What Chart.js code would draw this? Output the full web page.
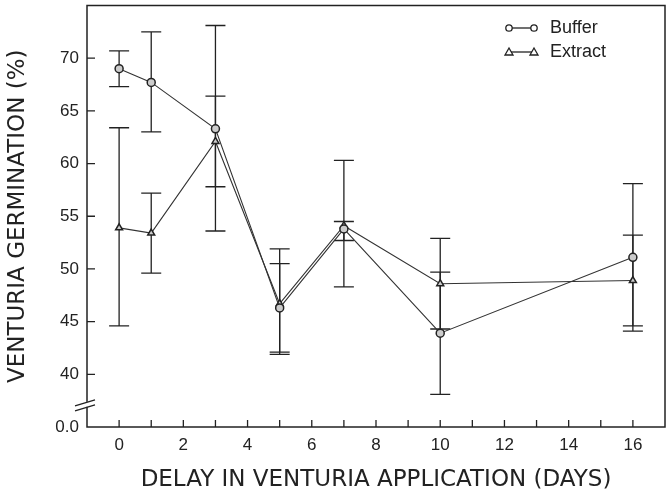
<!DOCTYPE html>
<html lang="en">
<head>
  <meta charset="UTF-8">
  <title>Venturia germination</title>
  <style>
    body { margin: 0; background: #fff; }
    #wrap { width: 671px; height: 498px; }
  </style>
</head>
<body>
  <div id="wrap"><canvas id="graph" width="671" height="498"></canvas></div>

  <script src="https://cdn.jsdelivr.net/npm/chart.js"></script>
  <script>
    // values
    const days = [0, 1, 3, 5, 7, 10, 16];
    const buffer   = [69.0, 67.7, 63.3, 46.3, 53.8, 43.9, 51.1];
    const bufferHi = [70.7, 72.5, 73.1, 50.5, 60.3, 49.7, 58.1];
    const bufferLo = [67.3, 63.0, 53.6, 42.1, 48.3, 38.1, 44.1];
    const extract   = [53.9, 53.4, 62.1, 46.7, 54.1, 48.6, 48.9];
    const extractHi = [63.4, 57.2, 66.4, 51.9, 54.5, 52.9, 53.2];
    const extractLo = [44.6, 49.6, 57.8, 41.9, 52.7, 44.3, 44.6];
    const seriesNames = ['Buffer', 'Extract'];
    const yTicks = [40, 45, 50, 55, 60, 65, 70];
    const xLabels = [0, 2, 4, 6, 8, 10, 12, 14, 16];

    const ink = '#222';
    const tickFont = { family: "'Liberation Sans', Arial, sans-serif", size: 17 };
    const titleFont = { family: "'DejaVu Sans', sans-serif", size: 23 };

    function pts(vals) { return days.map((d, i) => ({ x: d, y: vals[i] })); }

    // box, inward ticks, axis break, error bars, legend
    const decor = {
      id: 'decor',
      beforeDatasetsDraw(chart) {
        const ctx = chart.ctx, x = chart.scales.x, y = chart.scales.y;
        ctx.save();
        ctx.strokeStyle = ink;
        ctx.lineWidth = 1.3;
        const bars = [[bufferHi, bufferLo], [extractHi, extractLo]];
        bars.forEach(([hi, lo]) => {
          days.forEach((d, i) => {
            const px = x.getPixelForValue(d);
            const top = y.getPixelForValue(hi[i]), bot = y.getPixelForValue(lo[i]);
            ctx.beginPath();
            ctx.moveTo(px, top); ctx.lineTo(px, bot);
            ctx.moveTo(px - 10, top); ctx.lineTo(px + 10, top);
            ctx.moveTo(px - 10, bot); ctx.lineTo(px + 10, bot);
            ctx.stroke();
          });
        });
        ctx.restore();
      },
      afterDraw(chart) {
        const ctx = chart.ctx, a = chart.chartArea, x = chart.scales.x, y = chart.scales.y;
        ctx.save();
        ctx.strokeStyle = ink;
        ctx.lineWidth = 1.5;
        ctx.strokeRect(a.left, a.top, a.right - a.left, a.bottom - a.top);
        ctx.lineWidth = 1.3;
        ctx.beginPath();
        for (let d = 0; d <= 16; d++) {
          const px = x.getPixelForValue(d);
          ctx.moveTo(px, a.bottom); ctx.lineTo(px, a.bottom - 7);
        }
        yTicks.forEach(v => {
          const py = y.getPixelForValue(v);
          ctx.moveTo(a.left, py); ctx.lineTo(a.left + 8, py);
        });
        ctx.stroke();

        // axis break
        const by = y.getPixelForValue(37.2);
        ctx.fillStyle = '#fff';
        ctx.fillRect(a.left - 2, by - 2, 4, 5);
        ctx.beginPath();
        ctx.moveTo(a.left - 12, by + 2); ctx.lineTo(a.left + 8, by - 4);
        ctx.moveTo(a.left - 12, by + 7); ctx.lineTo(a.left + 8, by + 1);
        ctx.stroke();

        // legend
        const lx = 507, rows = [28, 52];
        ctx.font = "18px 'Liberation Sans', Arial, sans-serif";
        ctx.textBaseline = 'middle';
        rows.forEach((ry, k) => {
          ctx.beginPath();
          ctx.moveTo(lx, ry); ctx.lineTo(lx + 28, ry);
          ctx.stroke();
          [lx + 2, lx + 27].forEach(cx => {
            ctx.beginPath();
            if (k === 0) {
              ctx.arc(cx, ry, 3.2, 0, Math.PI * 2);
            } else {
              ctx.moveTo(cx, ry - 4); ctx.lineTo(cx + 4, ry + 3); ctx.lineTo(cx - 4, ry + 3); ctx.closePath();
            }
            ctx.fillStyle = '#fff'; ctx.fill(); ctx.stroke();
          });
          ctx.fillStyle = ink;
          ctx.fillText(seriesNames[k], lx + 43, ry);
        });
        ctx.restore();
      }
    };

    new Chart(document.getElementById('graph').getContext('2d'), {
      type: 'line',
      data: {
        datasets: [{
          label: seriesNames[0],
          data: pts(buffer),
          borderColor: '#333',
          borderWidth: 1.1,
          pointStyle: 'circle',
          pointRadius: 4,
          pointBorderWidth: 1.5,
          pointBackgroundColor: '#ccc',
          pointBorderColor: ink,
          tension: 0
        }, {
          label: seriesNames[1],
          data: pts(extract),
          borderColor: '#333',
          borderWidth: 1.1,
          pointStyle: 'triangle',
          pointRadius: 4,
          pointBorderWidth: 1.5,
          pointBackgroundColor: '#ccc',
          pointBorderColor: ink,
          tension: 0
        }]
      },
      options: {
        responsive: false,
        animation: false,
        layout: { padding: { top: 5, right: 6, left: 0, bottom: 0 } },
        plugins: { legend: { display: false }, tooltip: { enabled: false } },
        scales: {
          x: {
            type: 'linear',
            min: -1, max: 17,
            grid: { display: false, drawTicks: false },
            border: { display: false },
            afterFit(s) { s.height = 71; s.paddingLeft = 0; s.paddingRight = 0; },
            ticks: {
              stepSize: 1, autoSkip: false, maxRotation: 0, padding: 8,
              color: ink, font: tickFont,
              callback: v => xLabels.includes(v) ? String(v) : ''
            },
            title: { display: true, text: 'DELAY IN VENTURIA APPLICATION (DAYS)', color: ink, font: titleFont, padding: { top: 8 } }
          },
          y: {
            min: 35, max: 75,
            grid: { display: false, drawTicks: false },
            border: { display: false },
            afterFit(s) { s.width = 87; s.paddingTop = 0; s.paddingBottom = 0; },
            ticks: {
              stepSize: 5, autoSkip: false, padding: 8,
              color: ink, font: tickFont,
              callback: v => v === 35 ? '0.0' : (yTicks.includes(v) ? String(v) : '')
            },
            title: { display: true, text: 'VENTURIA GERMINATION (%)', color: ink, font: titleFont, padding: { bottom: 2 } }
          }
        }
      },
      plugins: [decor]
    });
  </script>
</body>
</html>
